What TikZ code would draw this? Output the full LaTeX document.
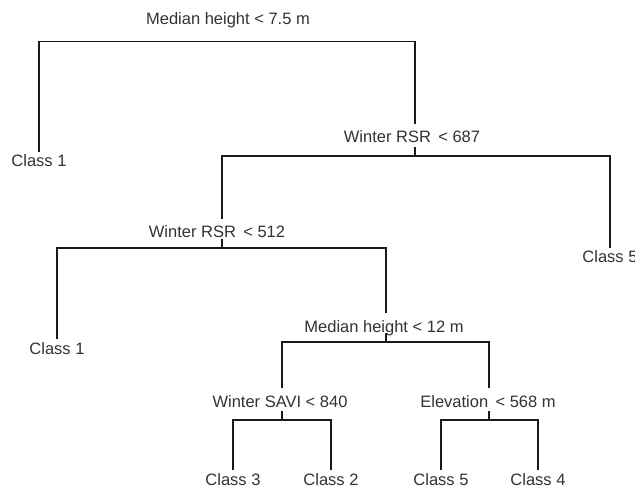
\documentclass[tikz,border=0pt]{standalone}
\usepackage{fontspec}
\setmainfont{Liberation Sans}
\begin{document}
\begin{tikzpicture}[x=1pt,y=-1pt,
  every node/.style={font=\fontsize{16.5}{18}\selectfont, text=black!80},
  splitlab/.style={anchor=base, inner xsep=0pt, inner ysep=7pt},
  leaflab/.style={anchor=base, inner xsep=0pt, inner ysep=2.5pt},
  edge/.style={draw=black!90, line width=1.1pt},
  tick/.style={draw=black!90, line width=1.1pt}]
\useasboundingbox[fill=white] (0,0) rectangle (635,489);
% split labels
\node[splitlab] (n1) at (228,25) {Median height < 7.5 m};
\node[splitlab] (n2) at (412,143) {Winter RSR\, < 687};
\node[splitlab] (n3) at (217,238) {Winter RSR\, < 512};
\node[splitlab] (n4) at (384,332) {Median height < 12 m};
\node[splitlab] (n5) at (280,407) {Winter SAVI < 840};
\node[splitlab] (n6) at (488,407) {Elevation\, < 568 m};
% bar centres
\coordinate (b1) at (228,41.5);
\coordinate (b2) at (415,156);
\coordinate (b3) at (222,248);
\coordinate (b4) at (386,342);
\coordinate (b5) at (282,420);
\coordinate (b6) at (489,420);
% leaves
\node[leaflab] (l1) at (39,167) {Class 1};
\node[leaflab] (l2) at (610,263) {Class 5};
\node[leaflab] (l3) at (57,354) {Class 1};
\node[leaflab] (l4) at (233,485) {Class 3};
\node[leaflab] (l5) at (331,485) {Class 2};
\node[leaflab] (l6) at (441,485) {Class 5};
\node[leaflab] (l7) at (538,485) {Class 4};
% ticks under split labels
\foreach \b in {b2,b3,b4,b5,b6} \draw[tick] (\b) -- ++(0,-9);
% connectors
\draw[edge] (b1) -| (l1.north);
\draw[edge] (b1) -| (b2 |- n2.north);
\draw[edge] (b2) -| (b3 |- n3.north);
\draw[edge] (b2) -| (l2.north);
\draw[edge] (b3) -| (l3.north);
\draw[edge] (b3) -| (b4 |- n4.north);
\draw[edge] (b4) -| (b5 |- n5.north);
\draw[edge] (b4) -| (b6 |- n6.north);
\draw[edge] (b5) -| (l4.north);
\draw[edge] (b5) -| (l5.north);
\draw[edge] (b6) -| (l6.north);
\draw[edge] (b6) -| (l7.north);
\end{tikzpicture}
\end{document}
